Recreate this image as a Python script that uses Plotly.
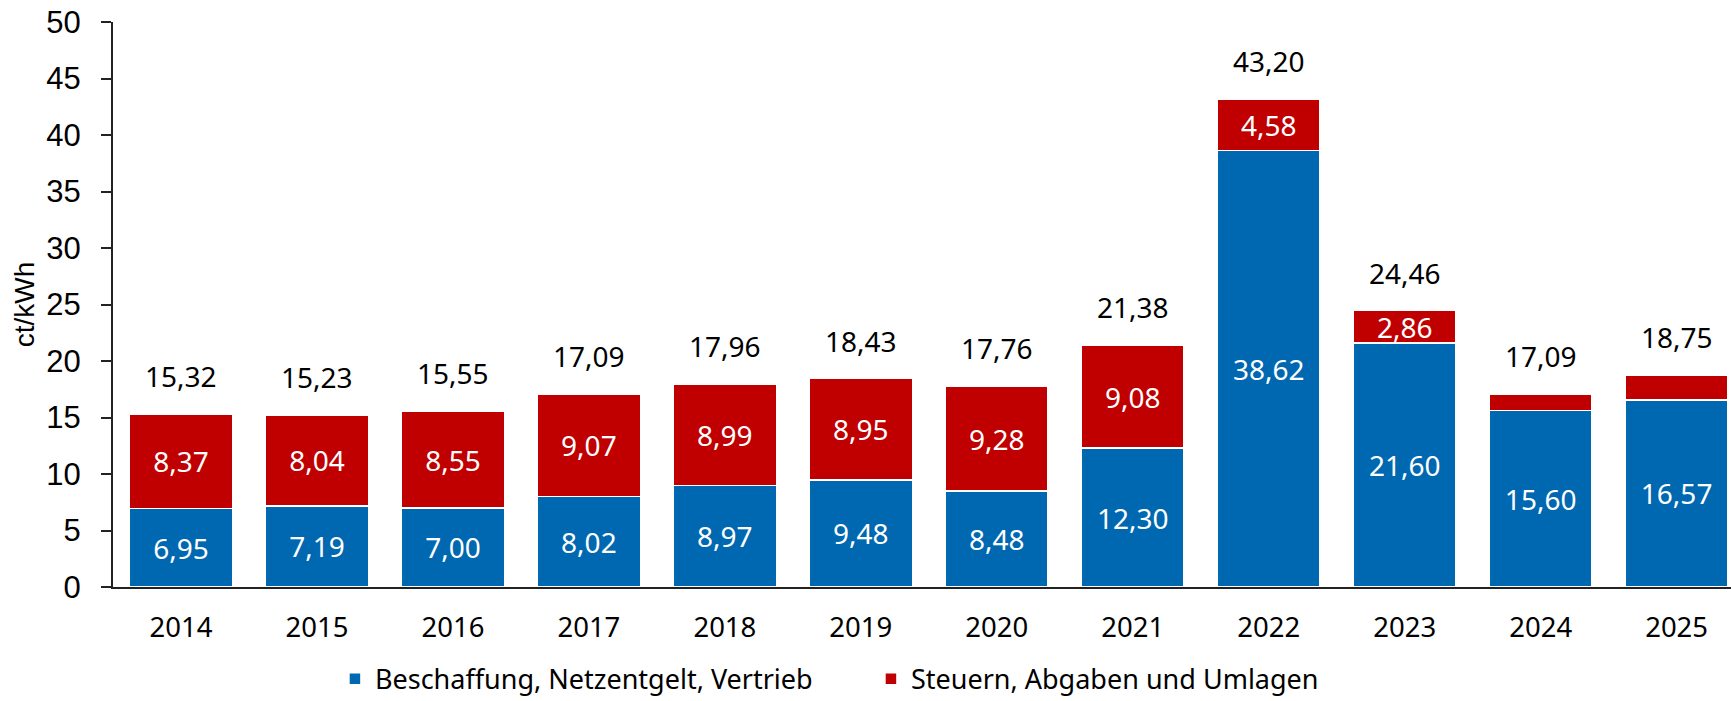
import plotly.graph_objects as go

years = ["2014", "2015", "2016", "2017", "2018", "2019",
         "2020", "2021", "2022", "2023", "2024", "2025"]
beschaffung = [6.95, 7.19, 7.00, 8.02, 8.97, 9.48, 8.48, 12.30, 38.62, 21.60, 15.60, 16.57]
steuern = [8.37, 8.04, 8.55, 9.07, 8.99, 8.95, 9.28, 9.08, 4.58, 2.86, 1.49, 2.18]
gesamt = [15.32, 15.23, 15.55, 17.09, 17.96, 18.43, 17.76, 21.38, 43.20, 24.46, 17.09, 18.75]
# labels that the source leaves off (segment too thin)
steuern_shown = [True] * 10 + [False, False]

BLUE = "#0068B0"
RED = "#C00000"
LABEL_FONT = "Noto Sans"


def de(v):
    return f"{v:.2f}".replace(".", ",")


fig = go.Figure()

fig.add_trace(go.Bar(
    x=years, y=beschaffung,
    name="Beschaffung, Netzentgelt, Vertrieb",
    marker=dict(color=BLUE, line=dict(color="white", width=1.5)),
    text=[de(v) for v in beschaffung],
    textposition="inside",
    insidetextanchor="middle",
    constraintext="none",
    textfont=dict(color="white", size=28, family=LABEL_FONT),
))

fig.add_trace(go.Bar(
    x=years, y=steuern,
    name="Steuern, Abgaben und Umlagen",
    marker=dict(color=RED, line=dict(color="white", width=1.5)),
    text=[de(v) if s else "" for v, s in zip(steuern, steuern_shown)],
    textposition="inside",
    insidetextanchor="middle",
    constraintext="none",
    textfont=dict(color="white", size=28, family=LABEL_FONT),
))

# totals above the stacks (category index as x)
for i, tot in enumerate(gesamt):
    fig.add_annotation(
        x=i, y=tot, xref="x", yref="y",
        text=de(tot), showarrow=False,
        yanchor="middle", yshift=38,
        font=dict(size=28, color="black", family=LABEL_FONT),
    )

fig.update_layout(
    barmode="stack",
    bargap=0.243,
    width=1731, height=701,
    margin=dict(l=113, r=0, t=22, b=114),
    plot_bgcolor="white",
    paper_bgcolor="white",
    showlegend=True,
    legend=dict(
        orientation="h",
        xref="container", yref="container",
        x=0.1935, xanchor="left",
        y=0.031, yanchor="middle",
        font=dict(size=27, family=LABEL_FONT, color="black"),
        itemwidth=30,
        entrywidth=491,
        traceorder="normal",
    ),
    xaxis=dict(
        type="category",
        range=[-0.5, 11.4],
        showline=True, linecolor="#222", linewidth=2,
        ticks="", showgrid=False,
        tickfont=dict(size=27.5, family=LABEL_FONT, color="black"),
        ticklabelstandoff=15,
    ),
    yaxis=dict(
        range=[0, 50], dtick=5,
        showline=True, linecolor="#222", linewidth=2,
        ticks="outside", ticklen=10, tickcolor="#222", tickwidth=2,
        showgrid=False, zeroline=False,
        tickfont=dict(size=31, family="Liberation Sans", color="black"),
        ticklabelstandoff=14,
        title=dict(text="ct/kWh", font=dict(size=28, family="Liberation Sans", color="black"), standoff=4),
    ),
)

fig.write_html("out.html", config={"displayModeBar": False},
               post_script="document.body.style.margin='0px';")
